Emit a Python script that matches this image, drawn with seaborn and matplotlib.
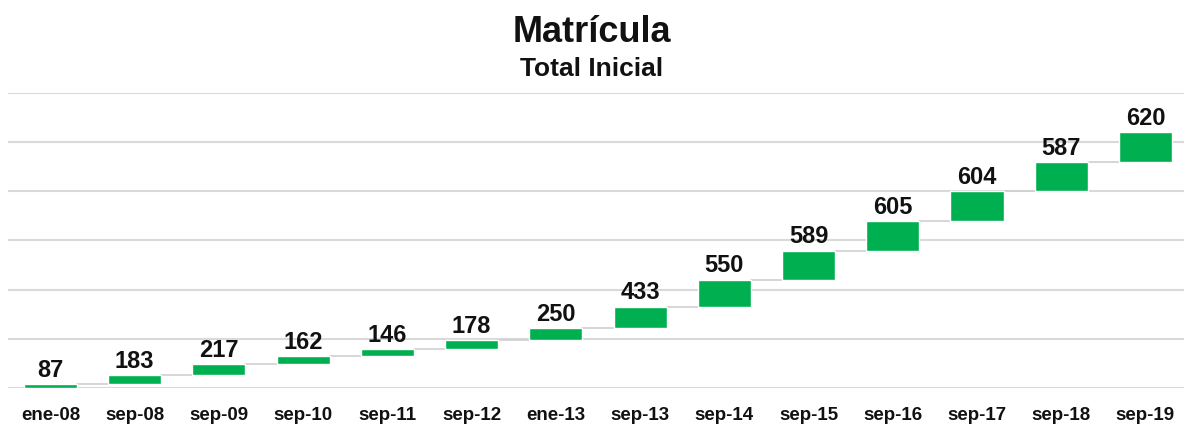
import numpy as np
import pandas as pd
import matplotlib
matplotlib.use("Agg")
import matplotlib.pyplot as plt
import seaborn as sns

periods = ['ene-08', 'sep-08', 'sep-09', 'sep-10', 'sep-11', 'sep-12', 'ene-13',
           'sep-13', 'sep-14', 'sep-15', 'sep-16', 'sep-17', 'sep-18', 'sep-19']
values = [87, 183, 217, 162, 146, 178, 250, 433, 550, 589, 605, 604, 587, 620]

df = pd.DataFrame({'periodo': periods, 'valor': values})
df['base'] = df['valor'].cumsum() - df['valor']
df['top'] = df['base'] + df['valor']

sns.set_style("white")
plt.rcParams['font.family'] = ['Liberation Sans', 'DejaVu Sans']

fig = plt.figure(figsize=(11.84, 4.27), dpi=100)
ax = fig.add_axes([0.007, 0.089, 0.996, 0.691])

sns.barplot(data=df, x='periodo', y='valor', color='#00B050', saturation=1,
            width=0.63, ax=ax, zorder=3)

# mover cada barra a su base acumulada (cascada)
for p, b in zip(ax.patches, df['base']):
    p.set_y(b)

w = 0.63
for i in range(len(df) - 1):
    ax.plot([i + w / 2, i + 1 - w / 2], [df['top'][i], df['top'][i]],
            color='#d0d0d0', lw=1.2, zorder=2)

for i, row in df.iterrows():
    ax.text(i, row['top'] + 65, str(row['valor']), ha='center', va='bottom',
            fontsize=17, fontweight='bold', color='#111111')

ax.set_ylim(0, 6000)
ax.set_xlim(-0.5, len(df) - 0.5)
ax.set_yticks(np.arange(0, 6001, 1000))
ax.set_yticklabels([])
ax.yaxis.grid(True, color='#d9d9d9', lw=1.5)
ax.set_axisbelow(True)
ax.tick_params(axis='both', length=0)
ax.tick_params(axis='x', pad=13)
for lbl in ax.get_xticklabels():
    lbl.set_fontsize(13.5)
    lbl.set_fontweight('bold')
    lbl.set_color('#111111')
ax.set(xlabel='', ylabel='')
sns.despine(ax=ax, left=True, bottom=True)

fig.text(0.5, 0.924, 'Matrícula', ha='center', va='center', fontsize=26,
         fontweight='bold', color='#111111')
fig.text(0.5, 0.838, 'Total Inicial', ha='center', va='center', fontsize=19,
         fontweight='bold', color='#111111')

fig.savefig('out.png', dpi=100)
